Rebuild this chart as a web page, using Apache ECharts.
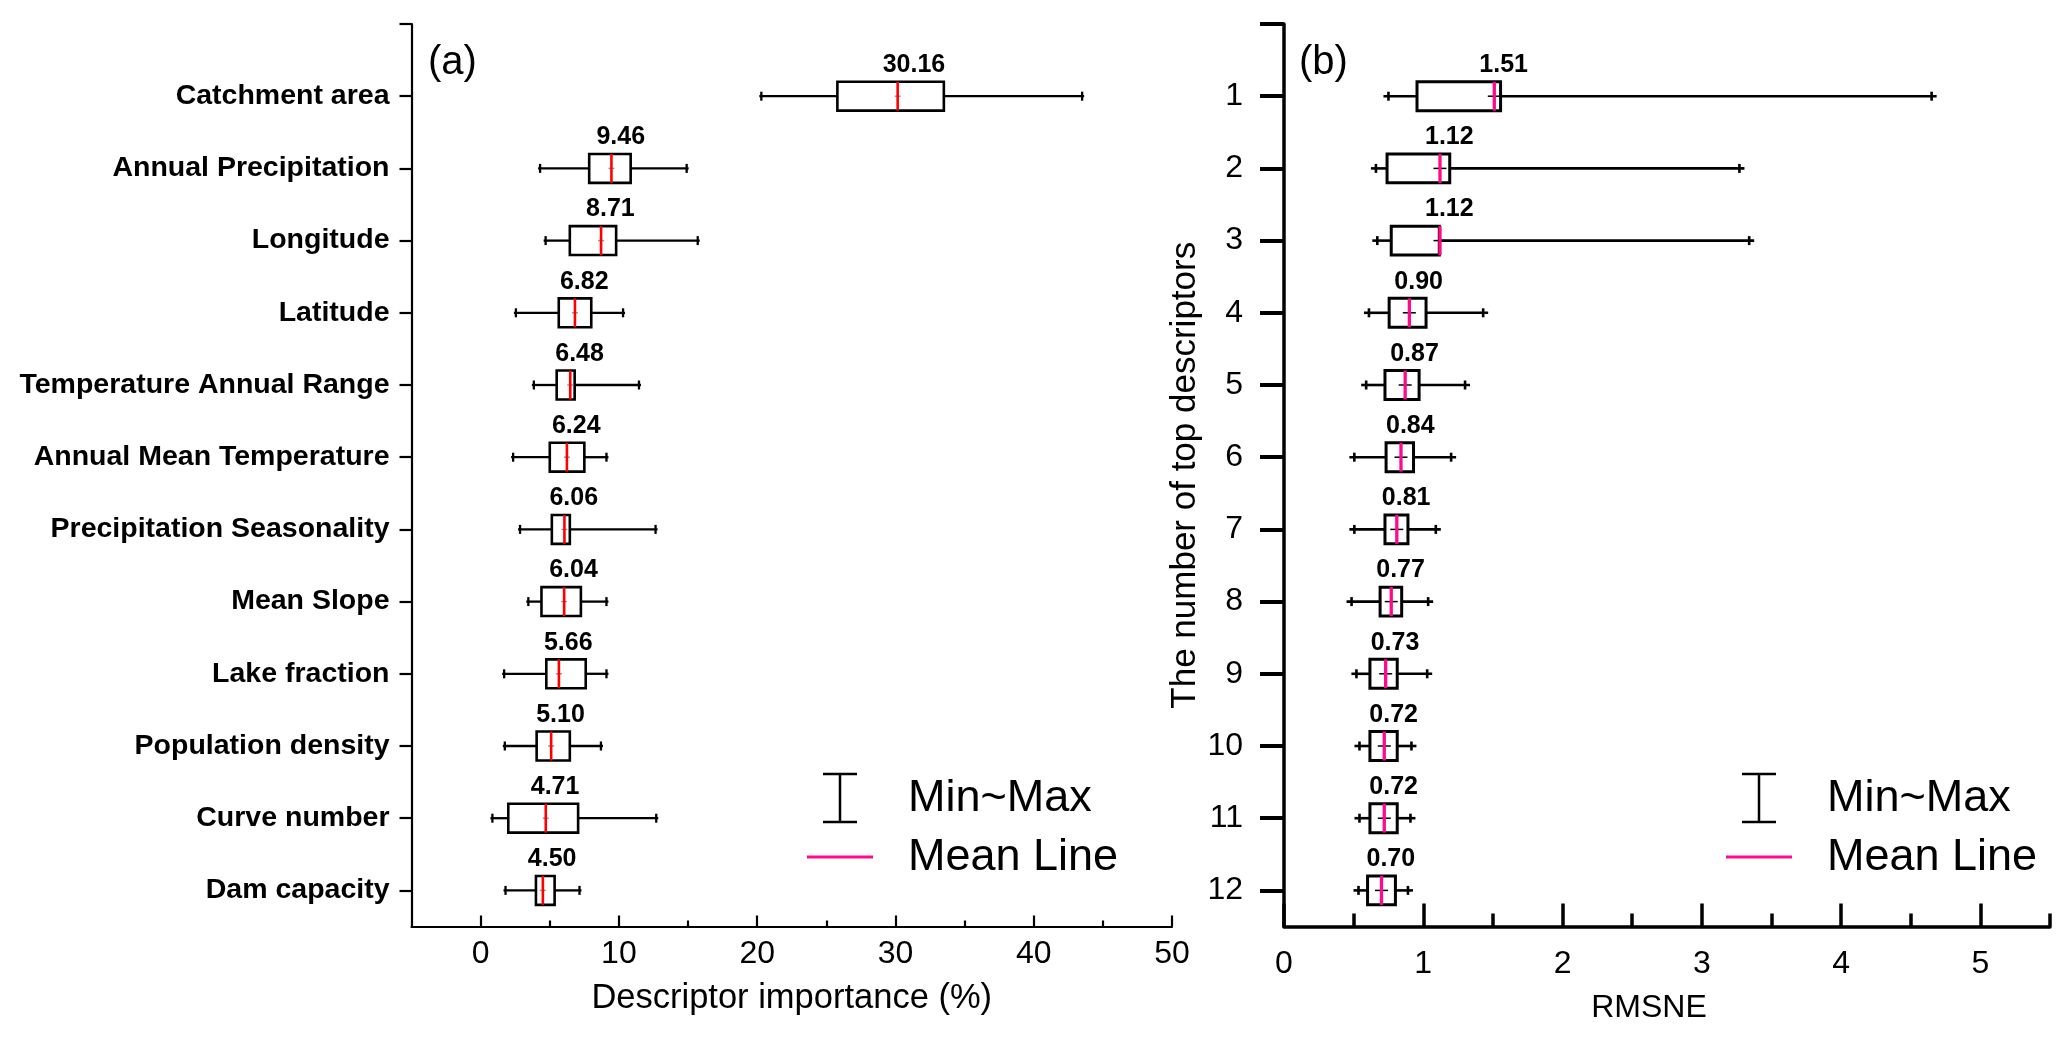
<!DOCTYPE html>
<html>
<head>
    <meta charset="UTF-8">
    <title>Descriptor importance and RMSNE</title>
    <script src="https://cdn.jsdelivr.net/npm/echarts@6/dist/echarts.min.js"></script>
    <style>
        html, body { margin: 0; padding: 0; background: #fff; }
        #main { width: 2067px; height: 1040px; }
    </style>
</head>
<body>
    <div id="main"></div>
    <script type="text/javascript">
        // (a) descriptor importance, %
        var descriptors = ['Catchment area', 'Annual Precipitation', 'Longitude', 'Latitude',
            'Temperature Annual Range', 'Annual Mean Temperature', 'Precipitation Seasonality',
            'Mean Slope', 'Lake fraction', 'Population density', 'Curve number', 'Dam capacity'];
        var impMin = [20.3, 4.3, 4.7, 2.55, 3.85, 2.35, 2.85, 3.45, 1.7, 1.75, 0.85, 1.8];
        var impQ1 = [25.8, 7.85, 6.45, 5.65, 5.5, 5.0, 5.15, 4.4, 4.75, 4.05, 2.0, 4.0];
        var impQ3 = [33.5, 10.85, 9.8, 8.0, 6.8, 7.5, 6.45, 7.25, 7.6, 6.45, 7.05, 5.35];
        var impMax = [43.5, 14.9, 15.7, 10.3, 11.45, 9.1, 12.65, 9.1, 9.1, 8.7, 12.7, 7.15];
        var impMean = [30.16, 9.46, 8.71, 6.82, 6.48, 6.24, 6.06, 6.04, 5.66, 5.10, 4.71, 4.50];
        var impTicks = [0, 10, 20, 30, 40, 50];
        var impMinorTicks = [5, 15, 25, 35, 45];

        // (b) RMSNE against number of top descriptors
        var topN = ['1', '2', '3', '4', '5', '6', '7', '8', '9', '10', '11', '12'];
        var rmMin = [0.75, 0.66, 0.67, 0.61, 0.59, 0.505, 0.505, 0.485, 0.52, 0.542, 0.542, 0.535];
        var rmQ1 = [0.955, 0.74, 0.77, 0.755, 0.725, 0.733, 0.725, 0.69, 0.617, 0.617, 0.617, 0.6];
        var rmQ3 = [1.555, 1.19, 1.115, 1.02, 0.97, 0.93, 0.89, 0.845, 0.813, 0.813, 0.813, 0.80];
        var rmMax = [4.65, 3.27, 3.34, 1.43, 1.30, 1.20, 1.09, 1.035, 1.028, 0.915, 0.908, 0.89];
        var rmMean = [1.51, 1.12, 1.12, 0.90, 0.87, 0.84, 0.81, 0.77, 0.73, 0.72, 0.72, 0.70];
        var rmTicks = [0, 1, 2, 3, 4, 5];
        var rmMinorTicks = [0.5, 1.5, 2.5, 3.5, 4.5, 5.5];

        var rowTicks = [0, 1, 2, 3, 4, 5, 6, 7, 8, 9, 10, 11, 12];
        var rowLabels = [1, 2, 3, 4, 5, 6, 7, 8, 9, 10, 11, 12];

        var FONT = '"Liberation Sans", Arial, sans-serif';
        var PINK = '#ff0a8c';

        function rows(mn, q1, q3, mx, mean) {
            var out = [];
            for (var i = 0; i < mn.length; i++) {
                out.push([i + 1, mn[i], q1[i], q3[i], mx[i], mean[i]]);
            }
            return out;
        }

        // 箱线图：须、箱体、均值线、均值标签
        function boxRenderer(st) {
            return function (params, api) {
                var y = api.value(0);
                var pMin = api.coord([api.value(1), y]);
                var pQ1 = api.coord([api.value(2), y]);
                var pQ3 = api.coord([api.value(3), y]);
                var pMax = api.coord([api.value(4), y]);
                var pMean = api.coord([api.value(5), y]);
                var h = api.size([0, 1])[1] * 0.4;
                var cy = pMin[1];
                var lw = { stroke: '#000', lineWidth: st.whisker };
                var ch = [];
                ch.push({ type: 'line', shape: { x1: pMin[0] - st.ext, y1: cy, x2: pQ1[0], y2: cy }, style: lw });
                ch.push({ type: 'line', shape: { x1: pQ3[0], y1: cy, x2: pMax[0] + st.ext, y2: cy }, style: lw });
                ch.push({ type: 'line', shape: { x1: pMin[0], y1: cy - st.cap, x2: pMin[0], y2: cy + st.cap }, style: lw });
                ch.push({ type: 'line', shape: { x1: pMax[0], y1: cy - st.cap, x2: pMax[0], y2: cy + st.cap }, style: lw });
                ch.push({
                    type: 'rect',
                    shape: { x: pQ1[0], y: cy - h / 2, width: pQ3[0] - pQ1[0], height: h },
                    style: { fill: '#fff', stroke: '#000', lineWidth: st.box }
                });
                ch.push({
                    type: 'line',
                    shape: { x1: pMean[0] - st.dot, y1: cy, x2: pMean[0] + st.dot, y2: cy },
                    style: { stroke: st.dotColor, lineWidth: 1.5 }
                });
                ch.push({
                    type: 'line',
                    shape: { x1: pMean[0], y1: cy - h / 2, x2: pMean[0], y2: cy + h / 2 },
                    style: { stroke: st.mean, lineWidth: st.meanWidth }
                });
                ch.push({
                    type: 'text',
                    style: {
                        text: api.value(5).toFixed(2),
                        x: pMean[0] - 15, y: cy - 31,
                        align: 'left', verticalAlign: 'middle',
                        font: 'bold 25px ' + FONT, fill: '#000'
                    }
                });
                return { type: 'group', children: ch };
            };
        }

        function legend(dx) {
            var s = { stroke: '#000', lineWidth: 2.5 };
            return [
                { type: 'line', shape: { x1: 840 + dx, y1: 774, x2: 840 + dx, y2: 822 }, style: s },
                { type: 'line', shape: { x1: 823 + dx, y1: 774, x2: 857 + dx, y2: 774 }, style: s },
                { type: 'line', shape: { x1: 823 + dx, y1: 822, x2: 857 + dx, y2: 822 }, style: s },
                { type: 'line', shape: { x1: 807 + dx, y1: 857, x2: 873 + dx, y2: 857 }, style: { stroke: PINK, lineWidth: 3 } },
                { type: 'text', style: { text: 'Min~Max', x: 908 + dx, y: 799, verticalAlign: 'middle', font: '45px ' + FONT, fill: '#000' } },
                { type: 'text', style: { text: 'Mean Line', x: 908 + dx, y: 858, verticalAlign: 'middle', font: '45px ' + FONT, fill: '#000' } }
            ];
        }

        var myChart = echarts.init(document.getElementById('main'));

        var option = {
            backgroundColor: '#fff',
            animation: false,
            grid: [
                { left: 411.5, top: 24, width: 760.5, height: 902.5, outerBoundsMode: 'none' },
                { left: 1284, top: 24, width: 766, height: 902.5, outerBoundsMode: 'none' }
            ],
            xAxis: [{
                gridIndex: 0, type: 'value', min: -5, max: 50, position: 'bottom',
                axisLine: { onZero: false, lineStyle: { color: '#000', width: 2.2 } },
                axisTick: { inside: true, length: 11, customValues: impTicks, lineStyle: { color: '#000', width: 2.2 } },
                axisLabel: { customValues: impTicks, color: '#000', fontSize: 32, fontFamily: FONT, margin: 12 },
                splitLine: { show: false },
                name: 'Descriptor importance (%)', nameLocation: 'middle', nameGap: 54,
                nameTextStyle: { color: '#000', fontSize: 34.5, fontFamily: FONT }
            }, {
                gridIndex: 0, type: 'value', min: -5, max: 50, position: 'bottom',
                axisLine: { show: false, onZero: false },
                axisTick: { inside: true, length: 6, customValues: impMinorTicks, lineStyle: { color: '#000', width: 2.2 } },
                axisLabel: { show: false },
                splitLine: { show: false }
            }, {
                gridIndex: 1, type: 'value', min: 0, max: 5.5, position: 'bottom',
                axisLine: { onZero: false, lineStyle: { color: '#000', width: 3.5 } },
                axisTick: { inside: true, length: 23, customValues: rmTicks, lineStyle: { color: '#000', width: 3.5 } },
                axisLabel: { customValues: rmTicks, color: '#000', fontSize: 32, fontFamily: FONT, margin: 22 },
                splitLine: { show: false },
                name: 'RMSNE', nameLocation: 'middle', nameGap: 66,
                nameTextStyle: { color: '#000', fontSize: 32, fontFamily: FONT, padding: [0, 36, 0, 0] }
            }, {
                gridIndex: 1, type: 'value', min: 0, max: 5.5, position: 'bottom',
                axisLine: { show: false, onZero: false },
                axisTick: { inside: true, length: 13, customValues: rmMinorTicks, lineStyle: { color: '#000', width: 3.5 } },
                axisLabel: { show: false },
                splitLine: { show: false }
            }],
            yAxis: [{
                gridIndex: 0, type: 'value', min: 0, max: 12.5, inverse: true, position: 'left',
                axisLine: { onZero: false, lineStyle: { color: '#000', width: 2.2 } },
                axisTick: { length: 12, customValues: rowTicks, lineStyle: { color: '#000', width: 2.2 } },
                axisLabel: {
                    customValues: rowLabels, color: '#000', fontSize: 28.5, fontWeight: 'bold', fontFamily: FONT, margin: 22,
                    formatter: function (v) { return descriptors[v - 1] || ''; }
                },
                splitLine: { show: false }
            }, {
                gridIndex: 1, type: 'value', min: 0, max: 12.5, inverse: true, position: 'left',
                axisLine: { onZero: false, lineStyle: { color: '#000', width: 3.5 } },
                axisTick: { length: 24, customValues: rowTicks, lineStyle: { color: '#000', width: 4 } },
                axisLabel: {
                    customValues: rowLabels, color: '#000', fontSize: 32, fontFamily: FONT, margin: 41,
                    formatter: function (v) { return topN[v - 1] || ''; }
                },
                splitLine: { show: false },
                name: 'The number of top descriptors', nameLocation: 'middle', nameGap: 81, nameRotate: 90,
                nameTextStyle: { color: '#000', fontSize: 35, fontFamily: FONT }
            }],
            series: [{
                type: 'custom', name: 'importance', xAxisIndex: 0, yAxisIndex: 0,
                encode: { x: [1, 2, 3, 4, 5], y: 0 },
                renderItem: boxRenderer({ whisker: 2.3, box: 2.6, cap: 4.5, ext: 2, mean: '#ff0000', meanWidth: 2.6, dot: 3, dotColor: '#999' }),
                data: rows(impMin, impQ1, impQ3, impMax, impMean)
            }, {
                type: 'custom', name: 'rmsne', xAxisIndex: 2, yAxisIndex: 1,
                encode: { x: [1, 2, 3, 4, 5], y: 0 },
                renderItem: boxRenderer({ whisker: 2.6, box: 3, cap: 4.5, ext: 5, mean: PINK, meanWidth: 3.3, dot: 6.5, dotColor: '#000' }),
                data: rows(rmMin, rmQ1, rmQ3, rmMax, rmMean)
            }],
            graphic: [
                { type: 'text', style: { text: '(a)', x: 428, y: 63, verticalAlign: 'middle', font: '40px ' + FONT, fill: '#000' } },
                { type: 'text', style: { text: '(b)', x: 1299, y: 63, verticalAlign: 'middle', font: '40px ' + FONT, fill: '#000' } }
            ].concat(legend(0), legend(919))
        };

        myChart.setOption(option);
    </script>
</body>
</html>
